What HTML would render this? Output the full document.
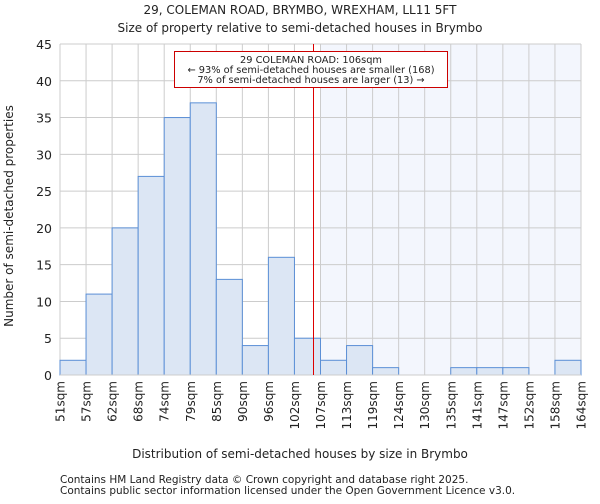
<!DOCTYPE html>
<html><head><meta charset="utf-8"><style>
body{margin:0;background:#fff;font-family:"DejaVu Sans","Liberation Sans",sans-serif;}
svg text{font-family:"DejaVu Sans","Liberation Sans",sans-serif;fill:#222;}
</style></head><body>
<svg id="chart" width="600" height="500" xmlns="http://www.w3.org/2000/svg">
<text x="300" y="14" text-anchor="middle" font-size="12">29, COLEMAN ROAD, BRYMBO, WREXHAM, LL11 5FT</text>
<text x="300" y="32" text-anchor="middle" font-size="12">Size of property relative to semi-detached houses in Brymbo</text>
<g id="plot"></g>
<text x="300" y="458" text-anchor="middle" font-size="12">Distribution of semi-detached houses by size in Brymbo</text>
<text transform="translate(13,216) rotate(-90)" text-anchor="middle" font-size="12">Number of semi-detached properties</text>
<text x="60" y="483" font-size="10.5" fill="#444">Contains HM Land Registry data © Crown copyright and database right 2025.</text>
<text x="60" y="494" font-size="10.5" fill="#444">Contains public sector information licensed under the Open Government Licence v3.0.</text>
</svg>
<script>
const categories=["51sqm","57sqm","62sqm","68sqm","74sqm","79sqm","85sqm","90sqm","96sqm","102sqm","107sqm","113sqm","119sqm","124sqm","130sqm","135sqm","141sqm","147sqm","152sqm","158sqm","164sqm"];
const counts=[2,11,20,27,35,37,13,4,16,5,2,4,1,0,0,1,1,1,0,2];
const yTicks=[0,5,10,15,20,25,30,35,40,45];
const binStart=51, binWidth=5.65, propertySize=106;
const X0=60,X1=581,Y0=375,Y1=44,YMAX=45;
const bw=(X1-X0)/counts.length;
const xIdx=i=>X0+i*bw;
const xVal=v=>X0+(v-binStart)/binWidth*bw;
const y=v=>Y0-(v/YMAX)*(Y0-Y1);
const g=document.getElementById('plot');
const NS='http://www.w3.org/2000/svg';
function mk(t,a){const e=document.createElementNS(NS,t);for(const k in a)e.setAttribute(k,a[k]);g.appendChild(e);return e;}
const sh=mk('rect',{x:xIdx(10),y:Y1,width:X1-xIdx(10),height:Y0-Y1,fill:'#f3f6fd'});


for(let i=0;i<=counts.length;i++){const l=mk('line',{x1:xIdx(i),x2:xIdx(i),y1:Y1,y2:Y0,stroke:'#ccc','stroke-width':1});

}
yTicks.forEach(t=>{const l=mk('line',{x1:X0,x2:X1,y1:y(t),y2:y(t),stroke:'#ccc','stroke-width':1});


const tx=mk('text',{x:X0-8,y:y(t)+5,'text-anchor':'end','font-size':12.5});tx.textContent=t;

});
counts.forEach((c,i)=>{if(c<=0)return;const r=mk('rect',{x:xIdx(i),y:y(c),width:bw,height:Y0-y(c),fill:'#dce6f4',stroke:'#5b8fd6','stroke-width':1});

});
categories.forEach((c,i)=>{const t=mk('text',{transform:`translate(${xIdx(i)+4.5},381) rotate(-90)`,'text-anchor':'end','font-size':12});t.textContent=c;

});
const ax=mk('line',{x1:X0,x2:X1,y1:Y0,y2:Y0,stroke:'#ccc'});


const px=Math.round(xVal(propertySize))-0.5;
const ml=mk('line',{x1:px,x2:px,y1:Y1,y2:Y0,stroke:'#dd0000','stroke-width':1});


const box=mk('rect',{x:174.5,y:51.5,width:273,height:36,fill:'#fff',stroke:'#cc0000','stroke-width':1});


[["29 COLEMAN ROAD: 106sqm",62],["← 93% of semi-detached houses are smaller (168)",72],["7% of semi-detached houses are larger (13) →",82]].forEach(([s,yy])=>{
const t=mk('text',{x:311,y:yy+1,'text-anchor':'middle','font-size':9.8});t.textContent=s;

});
</script>
</body></html>
